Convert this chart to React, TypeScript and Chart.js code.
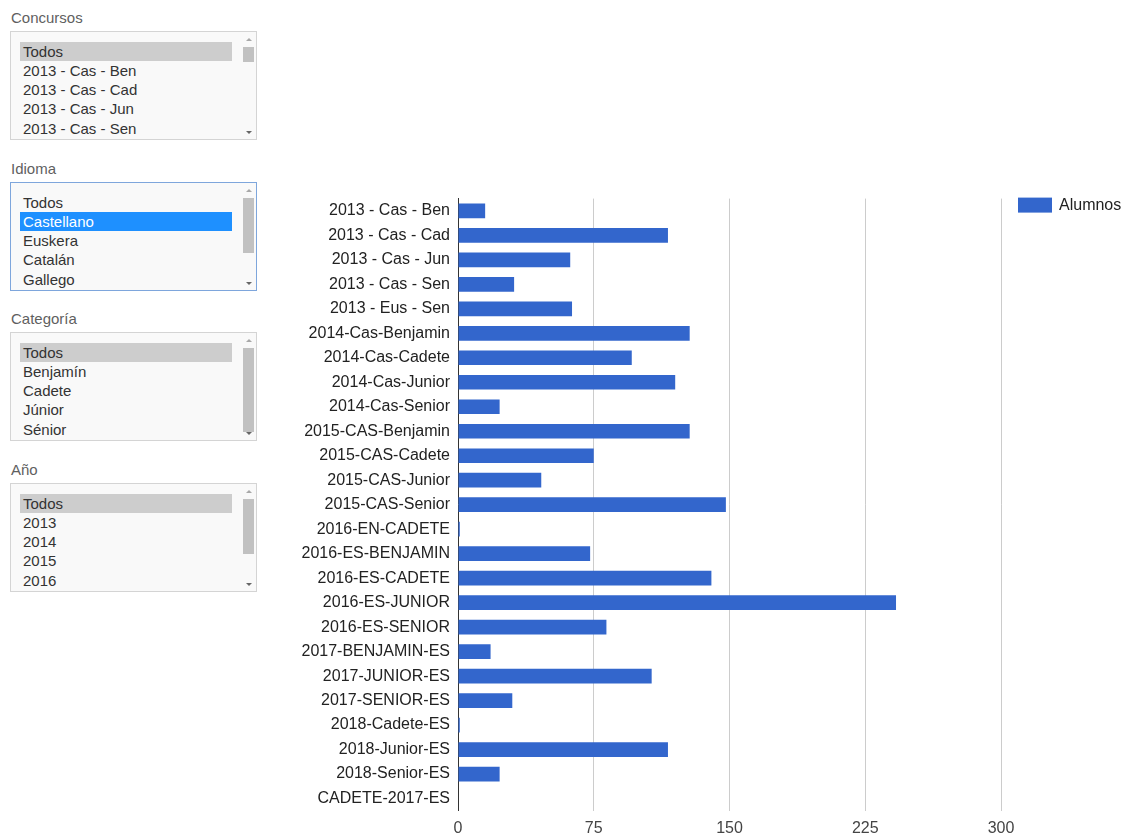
import React, { useEffect, useRef } from "react";
import { Chart, registerables } from "chart.js";

Chart.register(...registerables);

const categories = [
  "2013 - Cas - Ben",
  "2013 - Cas - Cad",
  "2013 - Cas - Jun",
  "2013 - Cas - Sen",
  "2013 - Eus - Sen",
  "2014-Cas-Benjamin",
  "2014-Cas-Cadete",
  "2014-Cas-Junior",
  "2014-Cas-Senior",
  "2015-CAS-Benjamin",
  "2015-CAS-Cadete",
  "2015-CAS-Junior",
  "2015-CAS-Senior",
  "2016-EN-CADETE",
  "2016-ES-BENJAMIN",
  "2016-ES-CADETE",
  "2016-ES-JUNIOR",
  "2016-ES-SENIOR",
  "2017-BENJAMIN-ES",
  "2017-JUNIOR-ES",
  "2017-SENIOR-ES",
  "2018-Cadete-ES",
  "2018-Junior-ES",
  "2018-Senior-ES",
  "CADETE-2017-ES",
];

const alumnos = [15, 116, 62, 31, 63, 128, 96, 120, 23, 128, 75, 46, 148, 1, 73, 140, 242, 82, 18, 107, 30, 1, 116, 23, 0];

const xTicks = [0, 75, 150, 225, 300];

const seriesLabel = "Alumnos";

const concursosOptions = ["Todos", "2013 - Cas - Ben", "2013 - Cas - Cad", "2013 - Cas - Jun", "2013 - Cas - Sen"];
const idiomaOptions = ["Todos", "Castellano", "Euskera", "Catalán", "Gallego"];
const categoriaOptions = ["Todos", "Benjamín", "Cadete", "Júnior", "Sénior"];
const anioOptions = ["Todos", "2013", "2014", "2015", "2016"];

const FONT = "Arial, 'Liberation Sans', sans-serif";
const BAR = "#3366cc";

type ListProps = {
  label: string;
  options: string[];
  selected: number;
  top: number;
  focused?: boolean;
  thumbTop: number;
  thumbHeight: number;
};

function ListBox({ label, options, selected, top, focused, thumbTop, thumbHeight }: ListProps) {
  return (
    <>
      <div
        style={{
          position: "absolute",
          left: 11,
          top: top - 22,
          fontFamily: FONT,
          fontSize: 15,
          lineHeight: "17px",
          color: "#5f5f5f",
          whiteSpace: "nowrap",
        }}
      >
        {label}
      </div>
      <div
        style={{
          position: "absolute",
          left: 10,
          top,
          width: 245,
          height: 107,
          border: focused ? "1px solid #7ea6dc" : "1px solid #d4d4d4",
          background: "#f9f9f9",
          overflow: "hidden",
        }}
      >
        {options.map((o, i) => {
          const isSel = i === selected;
          return (
            <div
              key={o}
              style={{
                position: "absolute",
                left: 9,
                top: 9.5 + i * 19.3,
                width: 212,
                height: 19,
                background: isSel ? (focused ? "#1e90ff" : "#cdcdcd") : "transparent",
                color: isSel && focused ? "#fff" : "#333",
                fontFamily: FONT,
                fontSize: 15,
                lineHeight: "19px",
                paddingLeft: 3,
                boxSizing: "border-box",
                whiteSpace: "nowrap",
              }}
            >
              {o}
            </div>
          );
        })}
        <div
          style={{
            position: "absolute",
            left: 235,
            top: 6,
            width: 0,
            height: 0,
            borderLeft: "3px solid transparent",
            borderRight: "3px solid transparent",
            borderBottom: "3px solid #a8a8a8",
          }}
        />
        <div
          style={{
            position: "absolute",
            left: 232,
            top: thumbTop,
            width: 11,
            height: thumbHeight,
            background: "#c1c1c1",
          }}
        />
        <div
          style={{
            position: "absolute",
            left: 235,
            top: 99,
            width: 0,
            height: 0,
            borderLeft: "3px solid transparent",
            borderRight: "3px solid transparent",
            borderTop: "3px solid #666",
          }}
        />
      </div>
    </>
  );
}

const legendPlugin = {
  id: "sideLegend",
  afterDraw(chart: any) {
    const { ctx, chartArea } = chart;
    const ds = chart.data.datasets[0];
    const x = chartArea.right + 17;
    const y = chartArea.top - 1;
    ctx.save();
    ctx.fillStyle = ds.backgroundColor;
    ctx.fillRect(x, y, 34, 15);
    ctx.fillStyle = "#222";
    ctx.font = `16px ${FONT}`;
    ctx.textBaseline = "middle";
    ctx.textAlign = "left";
    ctx.fillText(ds.label, x + 41, y + 8);
    ctx.restore();
  },
};

function BarChart() {
  const ref = useRef<HTMLCanvasElement | null>(null);
  useEffect(() => {
    if (!ref.current) return;
    const chart = new Chart(ref.current, {
      type: "bar",
      data: {
        labels: categories,
        datasets: [
          {
            label: seriesLabel,
            data: alumnos,
            backgroundColor: BAR,
            borderWidth: 0,
            barPercentage: 0.6,
            categoryPercentage: 1,
          },
        ],
      },
      options: {
        indexAxis: "y",
        responsive: false,
        animation: false,
        layout: { padding: { top: 13, right: 123, bottom: 0, left: 0 } },
        plugins: {
          legend: { display: false },
          tooltip: { enabled: false },
        },
        scales: {
          x: {
            min: 0,
            max: 300,
            afterBuildTicks: (scale: any) => {
              scale.ticks = xTicks.map((v) => ({ value: v }));
            },
            grid: { color: "#cccccc", lineWidth: 1, drawTicks: false },
            border: { display: false },
            ticks: {
              padding: 8,
              color: "#444",
              font: { family: FONT, size: 16 },
            },
          },
          y: {
            afterFit: (scale: any) => {
              scale.width = 188;
            },
            grid: { display: false, drawTicks: false },
            border: { display: true, color: "#333", width: 1 },
            ticks: {
              padding: 8,
              color: "#222",
              autoSkip: false,
              font: { family: FONT, size: 16 },
            },
          },
        },
      },
      plugins: [legendPlugin],
    });
    return () => chart.destroy();
  }, []);
  return (
    <canvas
      ref={ref}
      width={854}
      height={665}
      style={{ position: "absolute", left: 270, top: 181, width: 854, height: 665 }}
    />
  );
}

export default function App() {
  return (
    <div
      style={{
        position: "absolute",
        left: 0,
        top: 0,
        width: 1124,
        height: 834,
        overflow: "hidden",
        background: "#fff",
      }}
    >
      <ListBox label="Concursos" options={concursosOptions} selected={0} top={31} thumbTop={15} thumbHeight={15} />
      <ListBox label="Idioma" options={idiomaOptions} selected={1} top={182} focused thumbTop={15} thumbHeight={55} />
      <ListBox label="Categoría" options={categoriaOptions} selected={0} top={332} thumbTop={15} thumbHeight={84} />
      <ListBox label="Año" options={anioOptions} selected={0} top={483} thumbTop={15} thumbHeight={55} />
      <BarChart />
    </div>
  );
}
